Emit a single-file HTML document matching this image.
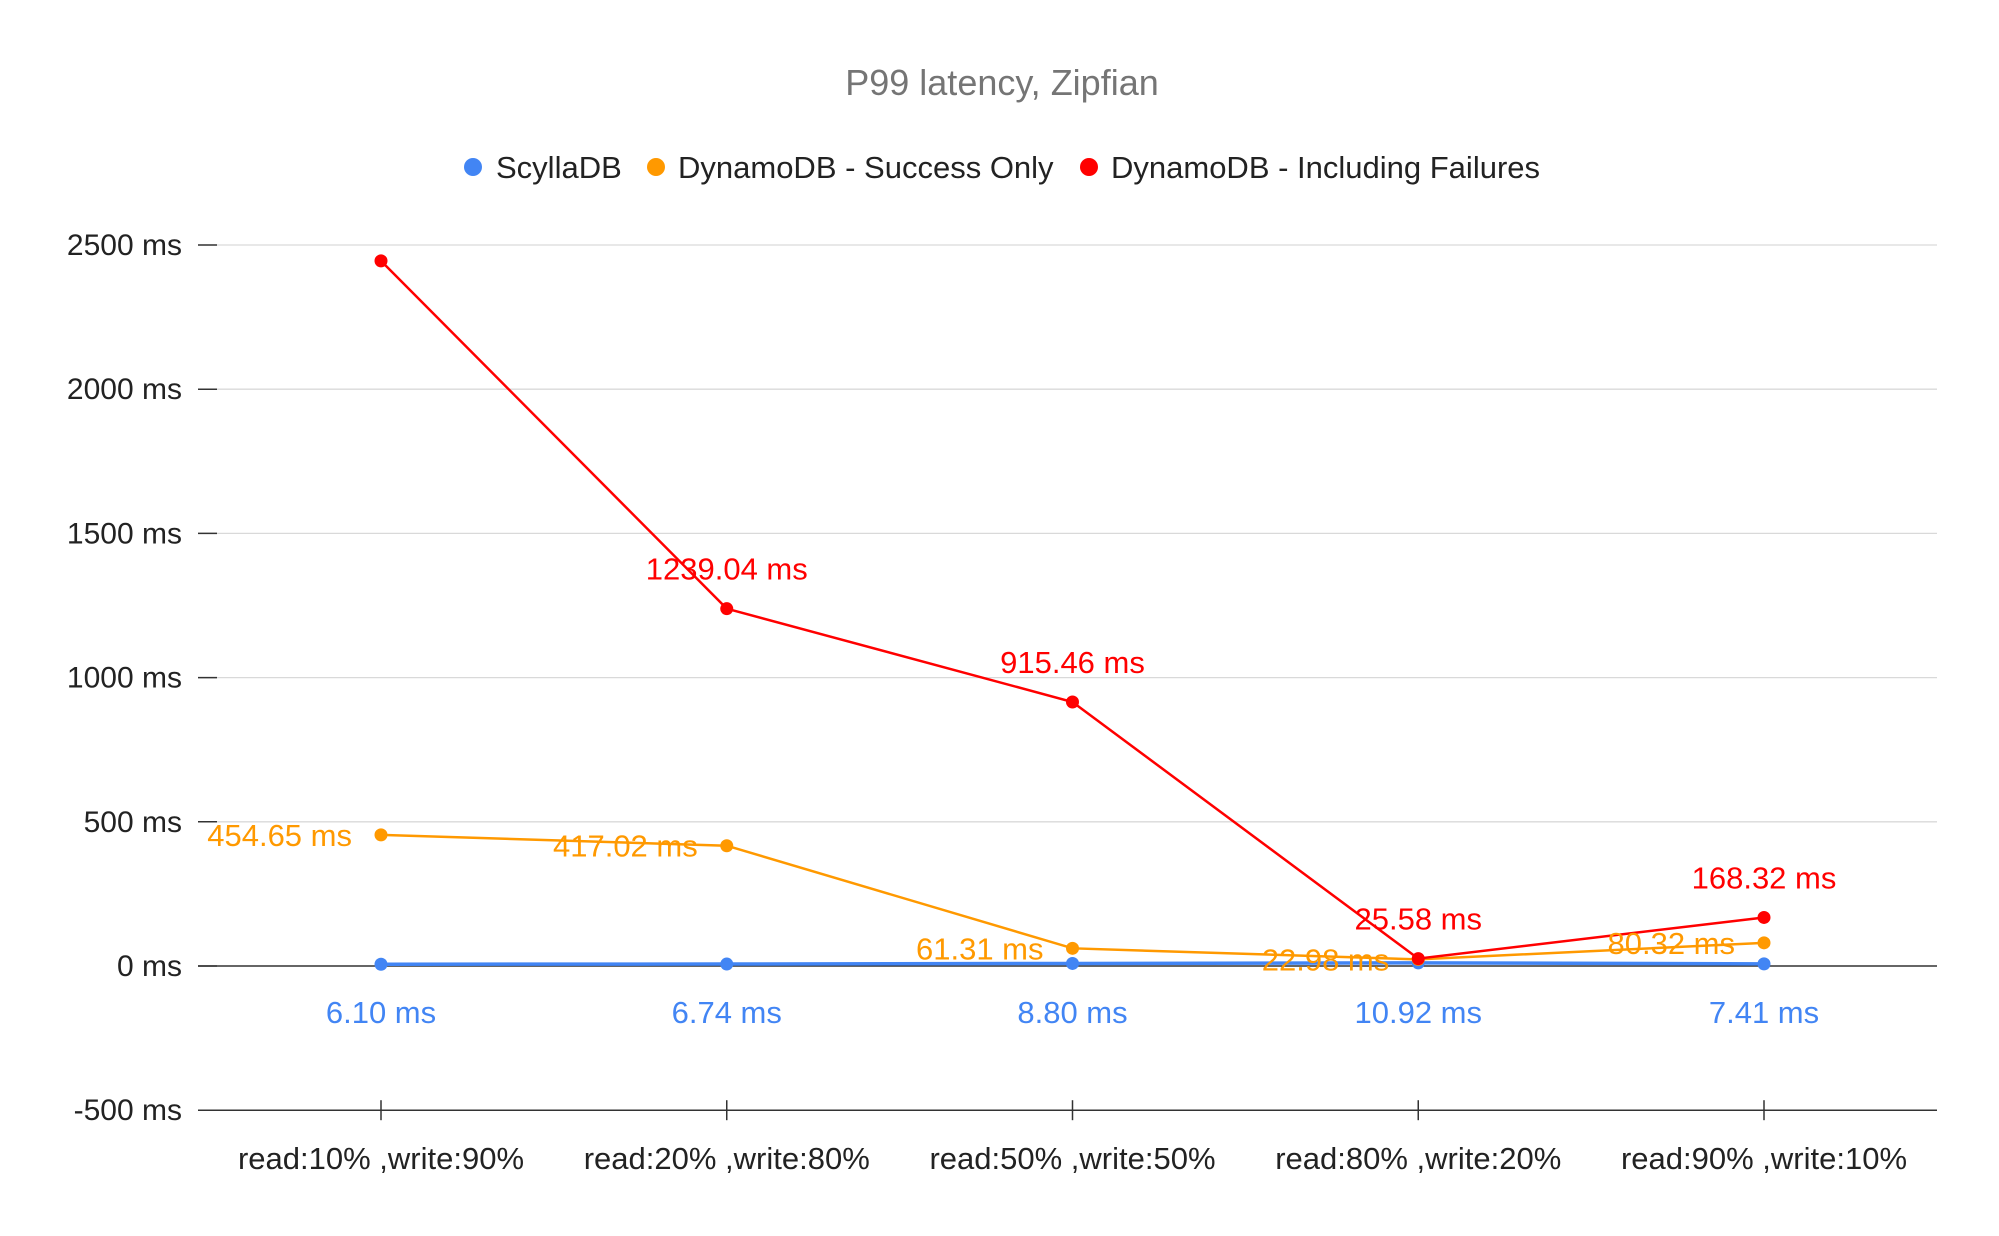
<!DOCTYPE html>
<html><head><meta charset="utf-8"><style>
html,body{margin:0;padding:0;background:#fff}
svg{display:block;font-family:"Liberation Sans",Arial,sans-serif}
</style></head><body>
<svg id="chart" width="1999" height="1236" viewBox="0 0 1999 1236" xmlns="http://www.w3.org/2000/svg">
<rect width="1999" height="1236" fill="#fff"/>
<text x="1002" y="95" text-anchor="middle" font-size="36" fill="#757575">P99 latency, Zipfian</text>
<g>
<g><circle cx="473" cy="167" r="9" fill="#4285f4"/><text x="496" y="178" font-size="31" fill="#222">ScyllaDB</text></g>
<g><circle cx="656" cy="167" r="9" fill="#ff9900"/><text x="678" y="178" font-size="31" fill="#222">DynamoDB - Success Only</text></g>
<g><circle cx="1089" cy="167" r="9" fill="#ff0000"/><text x="1111" y="178" font-size="31" fill="#222">DynamoDB - Including Failures</text></g>
</g>
<g id="axes"></g>
<g id="series"></g>
</svg>
<script>
const categories=["read:10% ,write:90%","read:20% ,write:80%","read:50% ,write:50%","read:80% ,write:20%","read:90% ,write:10%"];
const scylla=[6.10,6.74,8.80,10.92,7.41];
const dynSuccess=[454.65,417.02,61.31,22.98,80.32];
const dynFail=[2445,1239.04,915.46,25.58,168.32];
const yTicks=[-500,0,500,1000,1500,2000,2500];
const failLabels=[null,"1239.04 ms","915.46 ms","25.58 ms","168.32 ms"];
const NS="http://www.w3.org/2000/svg";
const L=198,R=1937;
function x(i){return 381+i*345.75;}
function y(v){return 966-v*0.2884;}
function mk(tag,attrs,parent,txt){const e=document.createElementNS(NS,tag);for(const k in attrs)e.setAttribute(k,attrs[k]);if(txt!=null)e.textContent=txt;parent.appendChild(e);return e;}
const ax=document.getElementById('axes'),sr=document.getElementById('series');
yTicks.forEach(t=>{
  const yy=y(t);
  const g=mk('line',{x1:L,x2:R,y1:yy,y2:yy,stroke:(t===0||t===-500)?'#333':'#d9d9d9','stroke-width':(t===0||t===-500)?1.5:1.3},ax);
  
  
  const tk=mk('line',{x1:L,x2:L+19,y1:yy,y2:yy,stroke:'#333','stroke-width':1.5},ax);
  
  
  const lb=mk('text',{x:182,y:yy+10,'text-anchor':'end','font-size':30,fill:'#222'},ax,t+' ms');
  
  
});
categories.forEach((c,i)=>{
  const tk=mk('line',{x1:x(i),x2:x(i),y1:y(-500)-10,y2:y(-500)+10,stroke:'#333','stroke-width':1.5},ax);
  
  
  const lb=mk('text',{x:x(i),y:1169,'text-anchor':'middle','font-size':31,fill:'#222'},ax,c);
  
  
});
function line(data,color,w,name){
  const p=mk('polyline',{points:data.map((v,i)=>x(i)+','+y(v)).join(' '),fill:'none',stroke:color,'stroke-width':w},sr);
  
  
  data.forEach((v,i)=>{
    const c=mk('circle',{cx:x(i),cy:y(v),r:6.5,fill:color},sr);
    
    
  });
}
line(scylla,'#4285f4',3.5,'scylladb');
line(dynSuccess,'#ff9900',2.5,'dynamodb-success');
line(dynFail,'#ff0000',2.5,'dynamodb-failures');
scylla.forEach((v,i)=>{
  const t=mk('text',{x:x(i),y:1023,'text-anchor':'middle','font-size':31,fill:'#4285f4'},sr,v.toFixed(2)+' ms');
  
  
});
dynSuccess.forEach((v,i)=>{
  const t=mk('text',{x:x(i)-29,y:y(v)+11,'text-anchor':'end','font-size':31,fill:'#ff9900'},sr,v.toFixed(2)+' ms');
  
  
});
dynFail.forEach((v,i)=>{
  if(!failLabels[i])return;
  const t=mk('text',{x:x(i),y:y(v)-29,'text-anchor':'middle','font-size':31,fill:'#ff0000'},sr,failLabels[i]);
  
  
});
</script>
</body></html>
